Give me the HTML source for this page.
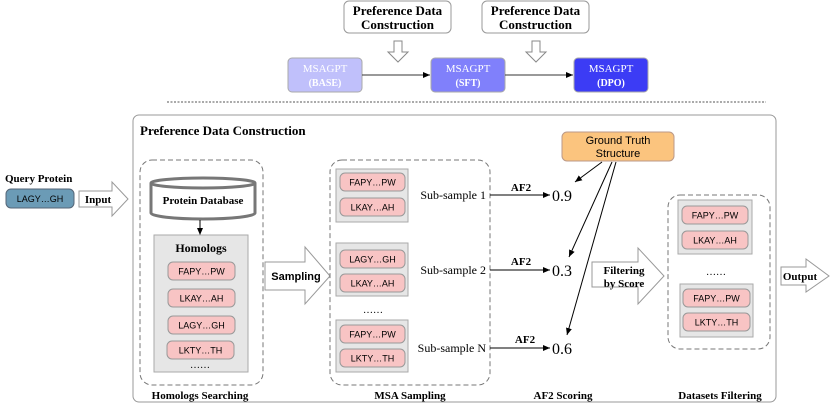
<!DOCTYPE html>
<html><head><meta charset="utf-8"><style>
html,body{margin:0;padding:0;background:#fff;}
svg{display:block;}
.b{font-family:"Liberation Serif",serif;font-weight:bold;}
.s{font-family:"Liberation Sans",sans-serif;}
.r{font-family:"Liberation Serif",serif;}
</style></head><body>
<svg width="830" height="405" viewBox="0 0 830 405" xmlns="http://www.w3.org/2000/svg">
<defs>
<marker id="ah" markerWidth="8" markerHeight="8" refX="7" refY="4" orient="auto" markerUnits="userSpaceOnUse"><path d="M0,1 L7,4 L0,7 z" fill="#000"/></marker>
</defs>
<!-- top section -->
<rect x="344" y="1" width="107" height="32" rx="5" fill="#fff" stroke="#999"/>
<text x="397.5" y="15" class="b" font-size="13" text-anchor="middle">Preference Data</text>
<text x="397.5" y="29" class="b" font-size="13" text-anchor="middle">Construction</text>
<rect x="482" y="1" width="107" height="32" rx="5" fill="#fff" stroke="#999"/>
<text x="535.5" y="15" class="b" font-size="13" text-anchor="middle">Preference Data</text>
<text x="535.5" y="29" class="b" font-size="13" text-anchor="middle">Construction</text>
<path d="M394,41 H402 V52 H408 L398,62 L388,52 H394 Z" fill="#fff" stroke="#888"/>
<path d="M532,41 H540 V52 H546 L536,62 L526,52 H532 Z" fill="#fff" stroke="#888"/>
<rect x="288" y="58" width="74" height="34" rx="4" fill="#c0c0fb" stroke="#aaa"/>
<text x="325" y="72" class="r" font-size="11" fill="#fff" text-anchor="middle">MSAGPT</text>
<text x="325" y="86" class="b" font-size="10" fill="#fff" text-anchor="middle">(BASE)</text>
<rect x="431" y="58" width="74" height="34" rx="4" fill="#8080fb" stroke="#aaa"/>
<text x="468" y="72" class="r" font-size="11" fill="#fff" text-anchor="middle">MSAGPT</text>
<text x="468" y="86" class="b" font-size="10" fill="#fff" text-anchor="middle">(SFT)</text>
<rect x="574" y="58" width="74" height="34" rx="4" fill="#3c3cf5" stroke="#aaa"/>
<text x="611" y="72" class="r" font-size="11" fill="#fff" text-anchor="middle">MSAGPT</text>
<text x="611" y="86" class="b" font-size="10" fill="#fff" text-anchor="middle">(DPO)</text>
<line x1="362" y1="75" x2="430" y2="75" stroke="#333" marker-end="url(#ah)"/>
<line x1="505" y1="75" x2="573" y2="75" stroke="#333" marker-end="url(#ah)"/>
<line x1="167" y1="102" x2="766" y2="102" stroke="#555" stroke-dasharray="2,1.5"/>

<!-- main box -->
<rect x="133" y="115" width="643" height="287" rx="6" fill="#fff" stroke="#999"/>
<text x="140" y="135" class="b" font-size="13">Preference Data Construction</text>

<text x="5" y="182" class="b" font-size="11">Query Protein</text>
<rect x="6" y="189" width="68" height="19" rx="5" fill="#6b9bb6" stroke="#567"/>
<text x="40" y="202" class="s" font-size="9" text-anchor="middle">LAGY…GH</text>
<path d="M79,191 H112 V182 L128,199 L112,216 V207 H79 Z" fill="#fff" stroke="#999"/>
<text x="98" y="203" class="b" font-size="11" text-anchor="middle">Input</text>

<!-- homologs -->
<rect x="140" y="160" width="123" height="225" rx="12" fill="none" stroke="#777" stroke-dasharray="5,3"/>
<path d="M151,183 V213 A52,6 0 0 0 255,213 V183" fill="#fff" stroke="#777" stroke-width="3"/>
<ellipse cx="203" cy="183" rx="52" ry="5" fill="#fff" stroke="#777" stroke-width="3"/>
<text x="203" y="204" class="b" font-size="11" text-anchor="middle">Protein Database</text>
<line x1="200" y1="220" x2="200" y2="235" stroke="#000" marker-end="url(#ah)"/>
<rect x="154" y="235" width="94" height="137" fill="#e6e6e6" stroke="#aaa"/>
<text x="201" y="252" class="b" font-size="12" text-anchor="middle">Homologs</text>
<g class="s" font-size="9" text-anchor="middle">
<rect x="168" y="262" width="67" height="18" rx="5" fill="#f8c4c4" stroke="#999"/><text x="201.5" y="274.5">FAPY…PW</text>
<rect x="168" y="289" width="67" height="18" rx="5" fill="#f8c4c4" stroke="#999"/><text x="201.5" y="301.5">LKAY…AH</text>
<rect x="168" y="316" width="67" height="18" rx="5" fill="#f8c4c4" stroke="#999"/><text x="201.5" y="328.5">LAGY…GH</text>
<rect x="167" y="341" width="67" height="18" rx="5" fill="#f8c4c4" stroke="#999"/><text x="200.5" y="353.5">LKTY…TH</text>
</g>
<text x="200" y="368" class="r" font-size="10" text-anchor="middle">……</text>
<text x="200" y="399" class="b" font-size="11" text-anchor="middle">Homologs Searching</text>

<path d="M265,262 H305 V247 L330,276 L305,304 V290 H265 Z" fill="#fff" stroke="#999"/>
<text x="296" y="280" class="s" font-weight="bold" font-size="11" text-anchor="middle">Sampling</text>

<!-- MSA -->
<rect x="330" y="160" width="160" height="225" rx="12" fill="none" stroke="#777" stroke-dasharray="5,3"/>
<g class="s" font-size="9" text-anchor="middle">
<rect x="336" y="169" width="72" height="53" fill="#e6e6e6" stroke="#aaa"/>
<rect x="340" y="173" width="65" height="18" rx="5" fill="#f8c4c4" stroke="#999"/><text x="372.5" y="185.5">FAPY…PW</text>
<rect x="340" y="198" width="65" height="18" rx="5" fill="#f8c4c4" stroke="#999"/><text x="372.5" y="210.5">LKAY…AH</text>
<rect x="336" y="243" width="72" height="53" fill="#e6e6e6" stroke="#aaa"/>
<rect x="340" y="250" width="65" height="18" rx="5" fill="#f8c4c4" stroke="#999"/><text x="372.5" y="262.5">LAGY…GH</text>
<rect x="340" y="274" width="65" height="18" rx="5" fill="#f8c4c4" stroke="#999"/><text x="372.5" y="286.5">LKAY…AH</text>
<rect x="336" y="320" width="72" height="52" fill="#e6e6e6" stroke="#aaa"/>
<rect x="340" y="325" width="65" height="18" rx="5" fill="#f8c4c4" stroke="#999"/><text x="372.5" y="337.5">FAPY…PW</text>
<rect x="340" y="349" width="65" height="18" rx="5" fill="#f8c4c4" stroke="#999"/><text x="372.5" y="361.5">LKTY…TH</text>
</g>
<text x="373" y="313" class="r" font-size="10" text-anchor="middle">……</text>
<text x="410" y="399" class="b" font-size="11" text-anchor="middle">MSA Sampling</text>

<g class="r" font-size="12" text-anchor="end">
<text x="486" y="199">Sub-sample 1</text>
<text x="486" y="274">Sub-sample 2</text>
<text x="486" y="352">Sub-sample N</text>
</g>
<line x1="490" y1="195" x2="550" y2="195" stroke="#000" marker-end="url(#ah)"/>
<line x1="490" y1="270" x2="550" y2="270" stroke="#000" marker-end="url(#ah)"/>
<line x1="490" y1="348" x2="550" y2="348" stroke="#000" marker-end="url(#ah)"/>
<g class="b" font-size="11" text-anchor="middle">
<text x="521" y="191">AF2</text><text x="521" y="265">AF2</text><text x="525" y="343">AF2</text>
</g>
<g class="r" font-size="16">
<text x="552" y="201">0.9</text><text x="552" y="276">0.3</text><text x="552" y="354">0.6</text>
</g>
<rect x="562" y="132" width="112" height="29" rx="5" fill="#fbc47e" stroke="#b98"/>
<text x="618" y="144" class="s" font-size="11" text-anchor="middle">Ground Truth</text>
<text x="618" y="157" class="s" font-size="11" text-anchor="middle">Structure</text>
<line x1="602" y1="162" x2="575" y2="182" stroke="#000" marker-end="url(#ah)"/>
<line x1="612" y1="162" x2="569" y2="257" stroke="#000" marker-end="url(#ah)"/>
<line x1="616" y1="162" x2="567" y2="335" stroke="#000" marker-end="url(#ah)"/>
<text x="563" y="399" class="b" font-size="11" text-anchor="middle">AF2 Scoring</text>

<path d="M592,262 H638 V248 L664,276 L638,304 V287 H592 Z" fill="#fff" stroke="#999"/>
<text x="624" y="274" class="b" font-size="11" text-anchor="middle">Filtering</text>
<text x="624" y="287" class="b" font-size="11" text-anchor="middle">by Score</text>

<rect x="668" y="195" width="102" height="154" rx="12" fill="none" stroke="#777" stroke-dasharray="5,3"/>
<g class="s" font-size="9" text-anchor="middle">
<rect x="678" y="200" width="74" height="54" fill="#e6e6e6" stroke="#aaa"/>
<rect x="682" y="206" width="66" height="18" rx="5" fill="#f8c4c4" stroke="#999"/><text x="715" y="218.5">FAPY…PW</text>
<rect x="682" y="231" width="66" height="18" rx="5" fill="#f8c4c4" stroke="#999"/><text x="715" y="243.5">LKAY…AH</text>
<rect x="680" y="284" width="73" height="53" fill="#e6e6e6" stroke="#aaa"/>
<rect x="683" y="289" width="67" height="18" rx="5" fill="#f8c4c4" stroke="#999"/><text x="716.5" y="301.5">FAPY…PW</text>
<rect x="683" y="313" width="67" height="18" rx="5" fill="#f8c4c4" stroke="#999"/><text x="716.5" y="325.5">LKTY…TH</text>
</g>
<text x="716" y="275" class="r" font-size="10" text-anchor="middle">……</text>
<text x="720" y="399" class="b" font-size="11" text-anchor="middle">Datasets Filtering</text>

<path d="M781,267 H806 V259 L829,276 L806,292 V285 H781 Z" fill="#fff" stroke="#999"/>
<text x="800" y="280" class="b" font-size="11" text-anchor="middle">Output</text>
</svg>
</body></html>
